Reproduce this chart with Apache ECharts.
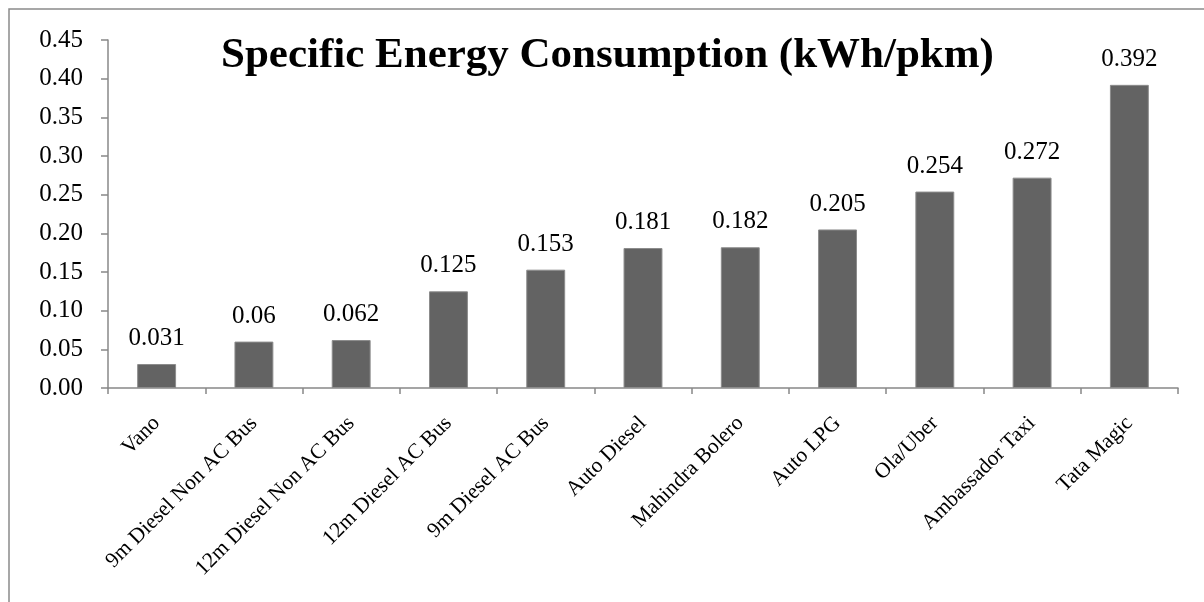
<!DOCTYPE html>
<html>
<head>
<meta charset="utf-8">
<script src="https://cdn.jsdelivr.net/npm/echarts@6/dist/echarts.min.js"></script>
<style>
  html, body { margin: 0; padding: 0; background: #ffffff; }
  #chart { width: 1204px; height: 602px; }
</style>
</head>
<body>
<div id="chart"></div>
<script>
// Vehicle categories and their specific energy consumption (kWh per passenger-km)
const categories = [
  'Vano', '9m Diesel Non AC Bus', '12m Diesel Non AC Bus', '12m Diesel AC Bus',
  '9m Diesel AC Bus', 'Auto Diesel', 'Mahindra Bolero', 'Auto LPG',
  'Ola/Uber', 'Ambassador Taxi', 'Tata Magic'
];
const energyValues = [0.031, 0.06, 0.062, 0.125, 0.153, 0.181, 0.182, 0.205, 0.254, 0.272, 0.392];
const titleText = 'Specific Energy Consumption (kWh/pkm)';

const serif = '"Liberation Serif", "Times New Roman", Times, serif';
const axisGray = '#888888';

const chart = echarts.init(document.getElementById('chart'), null, { renderer: 'canvas' });

chart.setOption({
  animation: false,
  backgroundColor: '#ffffff',
  title: {
    text: titleText,
    left: 216,
    top: 29,
    textStyle: { fontFamily: serif, fontWeight: 'bold', fontSize: 43, color: '#000000' }
  },
  graphic: [{
    type: 'rect',
    shape: { x: 9, y: 9, width: 1210, height: 610 },
    style: { fill: 'none', stroke: '#8a8a8a', lineWidth: 1.5 },
    silent: true
  }],
  grid: { left: 108, right: 26, top: 40, bottom: 214 },
  xAxis: {
    type: 'category',
    data: categories,
    axisLine: { lineStyle: { color: axisGray, width: 1.5 } },
    axisTick: { show: true, length: 6, lineStyle: { color: axisGray, width: 1.5 } },
    axisLabel: {
      rotate: 45,
      interval: 0,
      margin: 32,
      fontFamily: serif,
      fontSize: 21.5,
      color: '#000000'
    }
  },
  yAxis: {
    type: 'value',
    min: 0,
    max: 0.45,
    interval: 0.05,
    axisLine: { show: true, lineStyle: { color: axisGray, width: 1.5 } },
    axisTick: { show: true, length: 7, lineStyle: { color: axisGray, width: 1.5 } },
    splitLine: { show: false },
    axisLabel: {
      margin: 25,
      fontFamily: serif,
      fontSize: 25,
      color: '#000000',
      formatter: v => v.toFixed(2)
    }
  },
  series: [{
    type: 'bar',
    data: energyValues,
    barCategoryGap: '60%',
    itemStyle: { color: '#636363', borderColor: '#8c8c8c', borderWidth: 1 },
    label: {
      show: true,
      position: 'top',
      distance: 13,
      fontFamily: serif,
      fontSize: 25,
      color: '#000000',
      formatter: p => String(p.value)
    }
  }]
});
</script>
</body>
</html>
